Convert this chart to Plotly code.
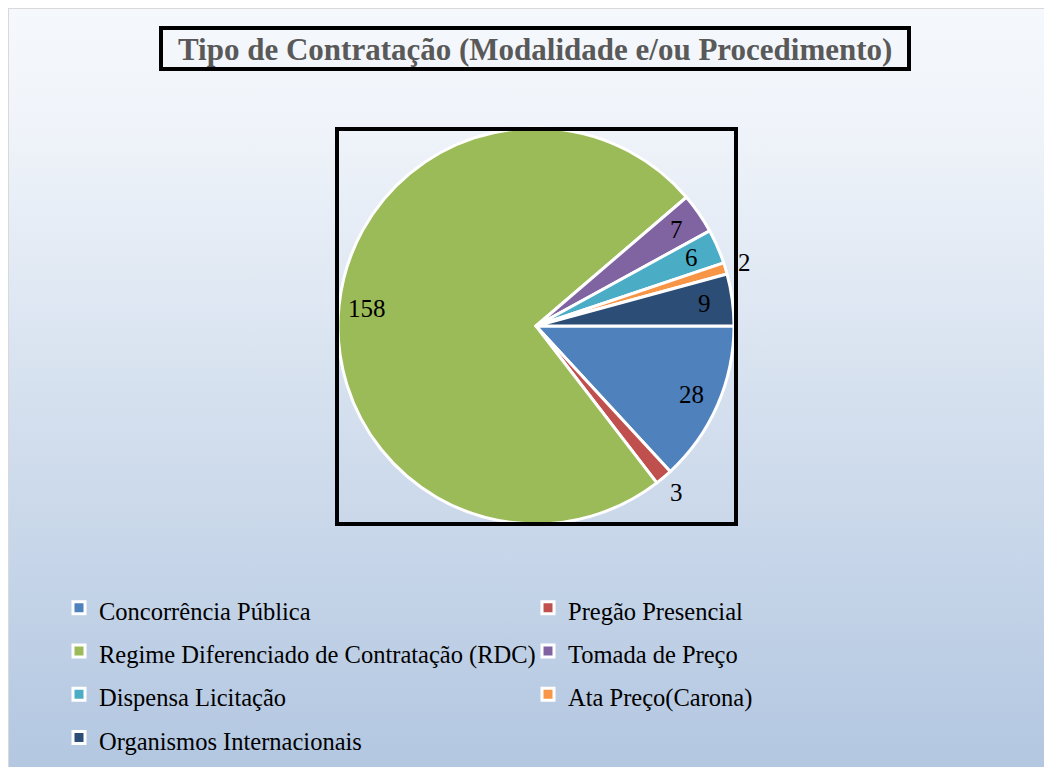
import base64
import numpy as np
import plotly.graph_objects as go

# ---- data ----
categories = [
    "Concorrência Pública",
    "Pregão Presencial",
    "Regime Diferenciado de Contratação (RDC)",
    "Tomada de Preço",
    "Dispensa Licitação",
    "Ata Preço(Carona)",
    "Organismos Internacionais",
]
values = [28, 3, 158, 7, 6, 2, 9]
colors = ["#4F81BD", "#C0504D", "#9BBB59", "#8064A2", "#4BACC6", "#F79646", "#2C4D75"]
title_text = "Tipo de Contratação (Modalidade e/ou Procedimento)"

# ---- layout helpers (page pixel -> paper); page has an 8px body margin ----
OFF = 8
FW, FH = 1044, 759


def px(x):
    return (x - OFF) / FW


def py(y):
    return 1 - (y - OFF) / FH


cx, cy, R = 536, 326, 198  # pie centre / radius in page pixels

legend_labels = [f"<span style='font-size:24.5px'>{c}</span>" for c in categories]

fig = go.Figure()
fig.add_trace(go.Pie(
    labels=legend_labels,
    values=values,
    marker=dict(colors=colors, line=dict(color="white", width=3)),
    sort=False,
    direction="clockwise",
    rotation=90,
    textinfo="none",
    hoverinfo="label+value",
    domain=dict(x=[px(cx - R), px(cx + R)], y=[py(cy + R), py(cy - R)]),
    showlegend=True,
))

# ---- data labels computed from the values ----
total = float(sum(values))
vals = np.array(values, dtype=float)
mid = np.cumsum(vals) - vals / 2
theta = np.deg2rad(mid / total * 360.0)
annotations = []
for v, t in zip(values, theta):
    d = R * 0.86 if v / total >= 0.02 else R + 20
    lx = cx + d * np.cos(t)
    ly = cy + d * np.sin(t)
    annotations.append(dict(
        x=px(lx), y=py(ly), xref="paper", yref="paper",
        text=str(v), showarrow=False,
        font=dict(family="Liberation Serif", size=25, color="black"),
        xanchor="center", yanchor="middle",
    ))

# title
annotations.append(dict(
    x=px(535), y=py(49), xref="paper", yref="paper",
    text=f"<b>{title_text}</b>", showarrow=False,
    font=dict(family="Liberation Serif", size=31, color="#595959"),
    xanchor="center", yanchor="middle",
))

# ---- background gradient ----
svg = (
    '<svg xmlns="http://www.w3.org/2000/svg" width="100" height="100" '
    'viewBox="0 0 100 100" preserveAspectRatio="none">'
    '<defs><linearGradient id="g" x1="0" y1="0" x2="0" y2="1">'
    '<stop offset="0" stop-color="#F5F8FC"/>'
    '<stop offset="0.15" stop-color="#F0F4FA"/>'
    '<stop offset="0.5" stop-color="#D6E1EF"/>'
    '<stop offset="1" stop-color="#B3C7E1"/>'
    '</linearGradient></defs>'
    '<rect width="100" height="100" fill="url(#g)"/></svg>'
)
svg_uri = "data:image/svg+xml;base64," + base64.b64encode(svg.encode()).decode()

shapes = [
    # outer chart border
    dict(type="rect", xref="paper", yref="paper",
         x0=0, x1=1.05, y0=1, y1=-0.05,
         line=dict(color="#D9D9D9", width=2), layer="below"),
    # title box
    dict(type="rect", xref="paper", yref="paper",
         x0=px(161), x1=px(909), y0=py(28), y1=py(69),
         line=dict(color="black", width=4)),
    # plot area box
    dict(type="rect", xref="paper", yref="paper",
         x0=px(337), x1=px(736), y0=py(129), y1=py(524),
         line=dict(color="black", width=4)),
]

fig.update_layout(
    width=FW, height=FH,
    margin=dict(l=0, r=0, t=0, b=0),
    paper_bgcolor="white",
    plot_bgcolor="rgba(0,0,0,0)",
    images=[dict(source=svg_uri, xref="paper", yref="paper",
                 x=0, y=1, sizex=1, sizey=1,
                 sizing="stretch", layer="below", xanchor="left", yanchor="top")],
    shapes=shapes,
    annotations=annotations,
    legend=dict(
        orientation="h",
        x=px(59), y=py(581), xanchor="left", yanchor="top",
        entrywidth=424, entrywidthmode="pixels",
        font=dict(family="Liberation Serif", size=31, color="black"),
        bgcolor="rgba(0,0,0,0)",
        traceorder="normal",
        itemclick=False,
    ),
)

fig.write_html("out.html")
